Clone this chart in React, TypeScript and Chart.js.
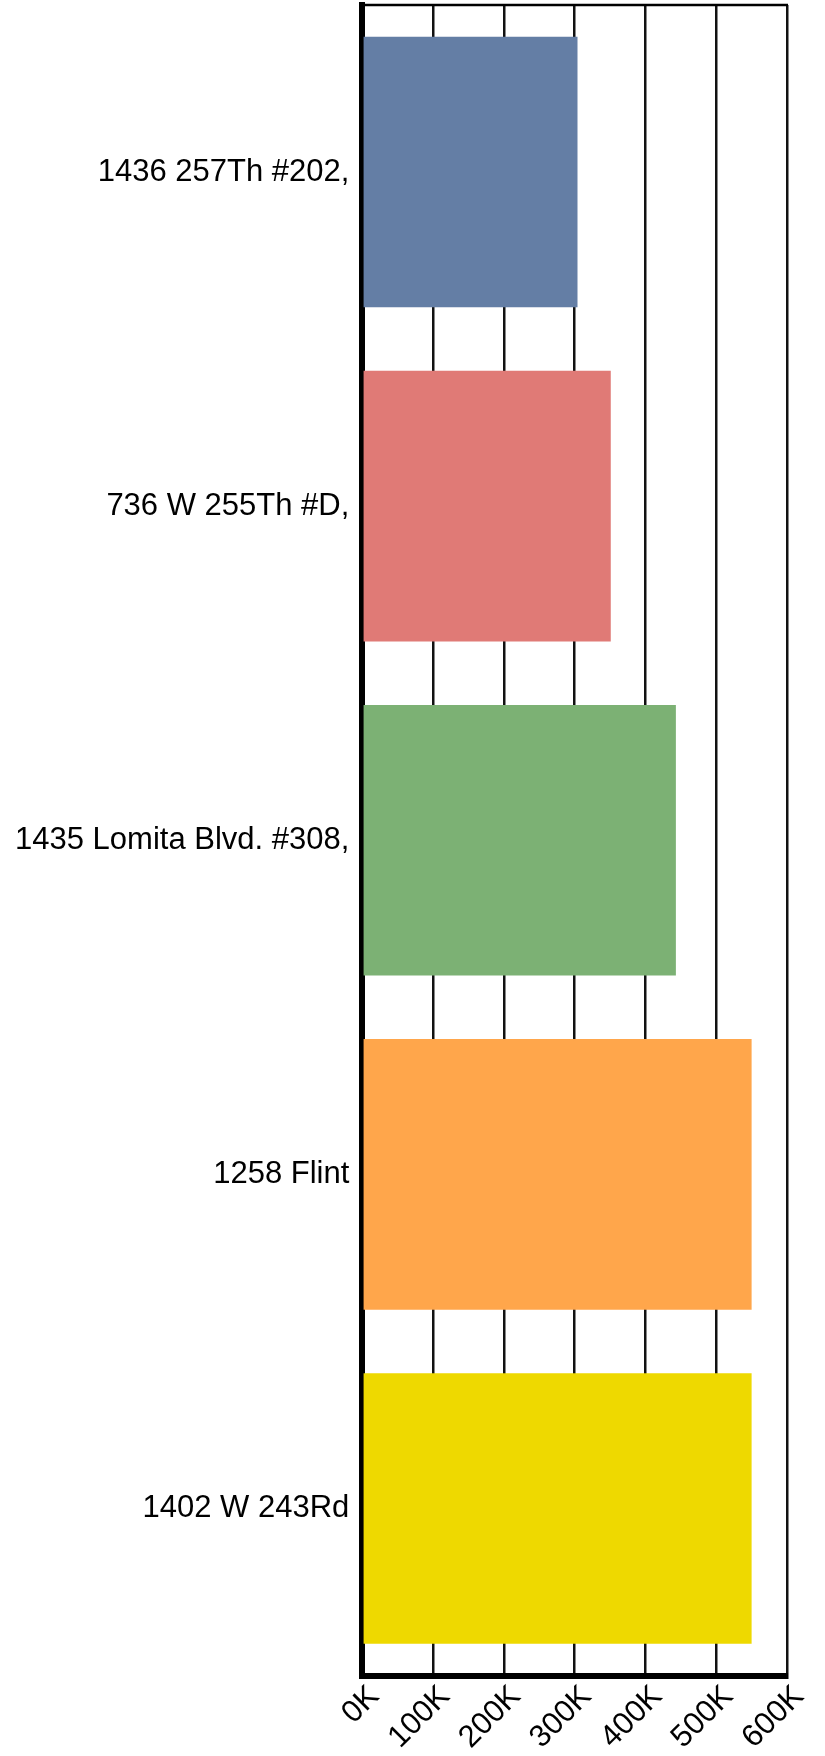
import React, { useEffect, useRef } from "react";
import { Chart, registerables } from "chart.js";

Chart.register(...registerables);

const categories = [
  "1436 257Th #202,",
  "736 W 255Th #D,",
  "1435 Lomita Blvd. #308,",
  "1258 Flint",
  "1402 W 243Rd",
];
const values = [304000, 351000, 443000, 550000, 550000];
const barColors = ["#647EA5", "#E07A76", "#7CB174", "#FFA64B", "#EED900"];
const xMax = 600000;
const xStep = 100000;

const topBorder = {
  id: "topBorder",
  beforeDatasetsDraw(chart: any) {
    const { ctx, chartArea } = chart;
    ctx.save();
    ctx.strokeStyle = "#000";
    ctx.lineWidth = 2.5;
    ctx.beginPath();
    ctx.moveTo(chartArea.left, chartArea.top);
    ctx.lineTo(chartArea.right + 1, chartArea.top);
    ctx.stroke();
    ctx.restore();
  },
};

export default function App() {
  const ref = useRef<HTMLCanvasElement | null>(null);
  useEffect(() => {
    document.body.style.margin = "0";
    const ctx = ref.current!.getContext("2d")!;
    const font = { family: "'Liberation Sans', Arial, sans-serif", size: 31 };
    const chart = new Chart(ctx, {
      type: "bar",
      data: {
        labels: categories,
        datasets: [
          {
            data: values,
            backgroundColor: barColors,
            borderWidth: 0,
            barPercentage: 0.9,
            categoryPercentage: 0.9,
          },
        ],
      },
      plugins: [topBorder],
      options: {
        indexAxis: "y",
        animation: false,
        responsive: false,
        maintainAspectRatio: false,
        layout: { padding: { top: 5, right: 38, bottom: -3, left: 2 } },
        plugins: { legend: { display: false }, tooltip: { enabled: false } },
        scales: {
          x: {
            min: 0,
            max: xMax,
            ticks: {
              stepSize: xStep,
              color: "#000",
              font,
              minRotation: 45,
              maxRotation: 45,
              padding: 3,
              labelOffset: 12,
              callback: (v: any) => Number(v) / 1000 + "K",
            },
            grid: { color: "#111", lineWidth: 2.5, drawTicks: false },
            border: { color: "#000", width: 6 },
          },
          y: {
            afterFit: (scale: any) => {
              scale.paddingTop = 0;
              scale.paddingBottom = 0;
            },
            ticks: { color: "#000", font, padding: 13 },
            grid: { display: false, drawTicks: false },
            border: { color: "#000", width: 6 },
          },
        },
      },
    });
    return () => chart.destroy();
  }, []);
  return (
    <div style={{ width: 825, height: 1756 }}>
      <canvas ref={ref} width={825} height={1756} style={{ display: "block" }} />
    </div>
  );
}
